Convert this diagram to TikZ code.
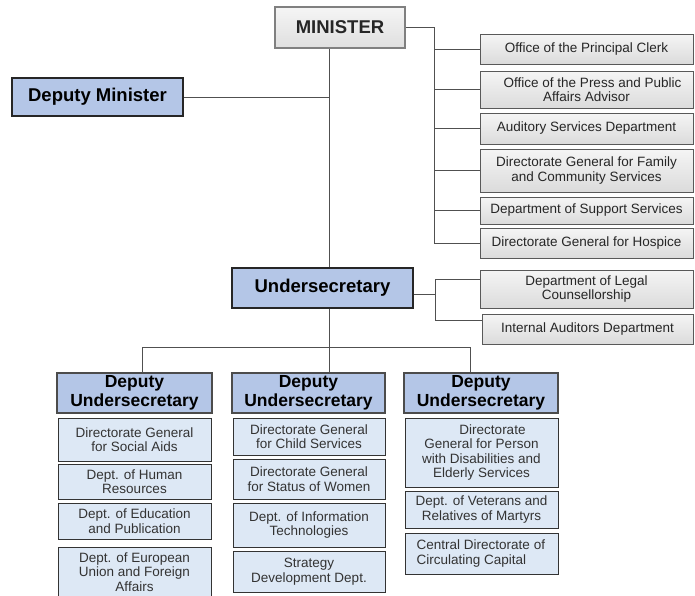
\documentclass[tikz,border=0pt]{standalone}
\usepackage{fontspec}
\setmainfont{Liberation Sans}
\definecolor{bluebox}{HTML}{B4C6E7}
\definecolor{lightblue}{HTML}{DDE8F5}
\definecolor{linec}{HTML}{505050}
\tikzset{
  base/.style={inner sep=1pt, align=center, text=black!85},
  graybox/.style={base, draw=black!65, line width=1pt, top color=gray!8, bottom color=gray!28, font=\fontsize{13.5}{14.5}\selectfont},
  minbox/.style={base, draw=black!50, line width=1.6pt, top color=gray!8, bottom color=gray!25, font=\fontsize{18.5}{20}\selectfont\bfseries},
  bluemain/.style={base, draw=black!85, line width=1.2pt, fill=bluebox, text=black, font=\fontsize{18.5}{20}\selectfont\bfseries},
  deputy/.style={base, draw=black!70, line width=1.2pt, fill=bluebox, text=black, font=\fontsize{17.5}{19}\selectfont\bfseries},
  subbox/.style={base, draw=black!80, line width=0.9pt, fill=lightblue, text=black!80, font=\fontsize{13.5}{14.5}\selectfont},
  conn/.style={draw=linec, line width=1pt}
}
\newcommand\mybox[7]{\node[#2, minimum width={#5-#3}, minimum height={#6-#4}] (#1) at ({(#3+#5)/2},{(#4+#6)/2}) {#7};}
\begin{document}
\begin{tikzpicture}[x=1pt,y=-1pt]
\useasboundingbox (0,0) rectangle (695,595);
% top level
\mybox{min}{minbox}{275}{7}{405}{48}{MINISTER}
\mybox{dm}{bluemain}{12}{78}{183}{116}{Deputy Minister}
\mybox{us}{bluemain}{232}{268}{413}{308}{Undersecretary}
% right boxes
\mybox{r1}{graybox}{480}{34}{693}{64}{Office of the Principal Clerk}
\mybox{r2}{graybox}{480}{71}{693}{108}{\hspace*{12pt}Office of the Press and Public\\Affairs Advisor}
\mybox{r3}{graybox}{480}{113}{693}{144}{Auditory Services Department}
\mybox{r4}{graybox}{480}{149}{693}{192}{Directorate General for Family\\and Community Services}
\mybox{r5}{graybox}{480}{197}{693}{224}{Department of Support Services}
\mybox{r6}{graybox}{480}{228}{693}{258}{Directorate General for Hospice}
\mybox{l1}{graybox}{480}{270}{693}{308}{Department of Legal\\Counsellorship}
\mybox{l2}{graybox}{482}{314}{693}{344}{Internal Auditors Department}
% deputies
\mybox{d1}{deputy}{57}{373}{212}{413}{Deputy\\Undersecretary}
\mybox{d2}{deputy}{232}{373}{385}{413}{Deputy\\Undersecretary}
\mybox{d3}{deputy}{404}{373}{558}{413}{Deputy\\Undersecretary}
% column 1
\mybox{a1}{subbox}{58}{418}{211}{461}{Directorate General\\for Social Aids}
\mybox{a2}{subbox}{58}{464}{211}{499}{Dept. of Human\\Resources}
\mybox{a3}{subbox}{58}{503}{211}{539}{Dept. of Education\\and Publication}
\mybox{a4}{subbox}{58}{547}{211}{597}{Dept. of European\\Union and Foreign\\Affairs}
% column 2
\mybox{b1}{subbox}{233}{418}{385}{455}{Directorate General\\for Child Services}
\mybox{b2}{subbox}{233}{459}{385}{499}{Directorate General\\for Status of Women}
\mybox{b3}{subbox}{233}{503}{385}{547}{Dept. of Information\\Technologies}
\mybox{b4}{subbox}{233}{551}{385}{592}{Strategy\\Development Dept.}
% column 3
\mybox{c1}{subbox}{405}{418}{558}{487}{\hspace*{22pt}Directorate\\General for Person\\with Disabilities and\\Elderly Services}
\mybox{c2}{subbox}{405}{491}{558}{528}{Dept. of Veterans and\\Relatives of Martyrs}
\node[subbox, align=left, minimum width=153, minimum height=41] (c3) at (481.5,553.5) {Central Directorate of\\Circulating Capital\hspace*{20pt}};
% connectors
\coordinate (spine) at (329,0);
\coordinate (busr) at (434,0);
\coordinate (busl) at (435,0);
\draw[conn] (min.east) -- (min.east -| busr) -- (busr |- r6.west) -- (r6.west);
\foreach \r in {r1,r2,r3,r4,r5}{\draw[conn] (busr |- \r.west) -- (\r.west);}
\draw[conn] (dm.east) -- (dm.east -| spine);
\draw[conn] (spine |- min.south) -- (spine |- us.north);
\coordinate (ll1) at ([yshift=10pt]l1.west);
\coordinate (ll2) at ([yshift=9pt]l2.west);
\draw[conn] ([yshift=-6pt]us.east) -- ([yshift=-6pt]us.east -| busl);
\draw[conn] (ll1) -- (ll1 -| busl) -- (ll2 -| busl) -- (ll2);
\coordinate (hb) at (0,347);
\coordinate (x1) at (142,0);
\coordinate (x3) at (470,0);
\draw[conn] (spine |- us.south) -- (spine |- hb);
\draw[conn] (x1 |- d1.north) -- (x1 |- hb) -- (x3 |- hb) -- (x3 |- d3.north);
\draw[conn] (spine |- hb) -- (spine |- d2.north);
\end{tikzpicture}
\end{document}
